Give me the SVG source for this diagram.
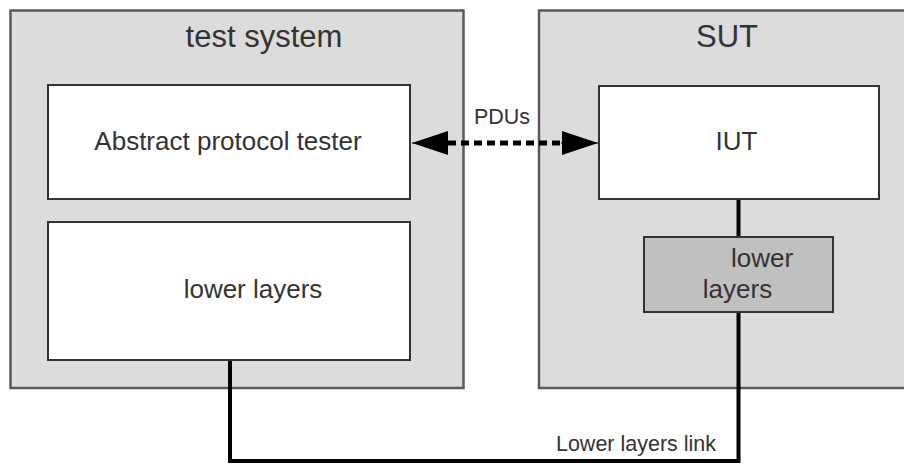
<svg xmlns="http://www.w3.org/2000/svg" width="904" height="464" viewBox="0 0 904 464">
  <defs>
    <style>
      .outer { fill: #dcdcdc; stroke: #5a5a5a; stroke-width: 2.5; }
      .inner { fill: #ffffff; stroke: #333333; stroke-width: 2; }
      .dark { fill: #c0c0c0; stroke: #333333; stroke-width: 2; }
      .t { font-family: "Liberation Sans", Arial, sans-serif; fill: #333333; text-anchor: middle; }
      .title { font-size: 31px; }
      .lbl { font-size: 26px; }
      .small { font-size: 21.5px; }
      .link { fill: none; stroke: #000000; stroke-width: 4; }
      .pdu { fill: none; stroke: #000000; stroke-width: 5; stroke-dasharray: 8 5; }
    </style>
    <marker id="ah" viewBox="0 0 36 24" refX="36" refY="12" markerWidth="36" markerHeight="24" markerUnits="userSpaceOnUse" orient="auto-start-reverse">
      <path d="M0,0 L36,12 L0,24 Z" fill="#000000"/>
    </marker>
  </defs>
  <rect width="904" height="464" fill="#ffffff"/>

  <g id="test-system">
    <rect class="outer" x="10.5" y="10.5" width="453" height="377.5"/>
    <text class="t title" x="264" y="47">test system</text>
  </g>
  <g id="sut">
    <rect class="outer" x="539" y="10.5" width="370" height="377.5"/>
    <text class="t title" x="727" y="47">SUT</text>
  </g>

  <g id="connectors">
    <polyline class="link" points="230,360 230,461 738.5,461 738.5,312"/>
    <line class="link" x1="738.5" y1="199" x2="738.5" y2="237"/>
    <line class="pdu" x1="448" y1="143" x2="562" y2="143"/>
    <line x1="449" y1="143" x2="412" y2="143" stroke="#000" stroke-width="1" marker-end="url(#ah)"/>
    <line x1="561" y1="143" x2="598" y2="143" stroke="#000" stroke-width="1" marker-end="url(#ah)"/>
    <text class="t small" x="502" y="124">PDUs</text>
    <text class="t small" x="636" y="451">Lower layers link</text>
  </g>

  <g id="abstract-protocol-tester">
    <rect class="inner" x="48" y="85" width="362" height="114"/>
    <text class="t lbl" x="228" y="150">Abstract protocol tester</text>
  </g>
  <g id="lower-layers-test">
    <rect class="inner" x="48" y="222" width="362" height="138"/>
    <text class="t lbl" x="253" y="298">lower layers</text>
  </g>
  <g id="iut">
    <rect class="inner" x="599" y="86" width="280" height="113"/>
    <text class="t lbl" x="736.5" y="150">IUT</text>
  </g>
  <g id="lower-layers-sut">
    <rect class="dark" x="644" y="237" width="189" height="75"/>
    <text class="t lbl" x="762" y="267">lower</text>
    <text class="t lbl" x="737.5" y="298">layers</text>
  </g>
</svg>
